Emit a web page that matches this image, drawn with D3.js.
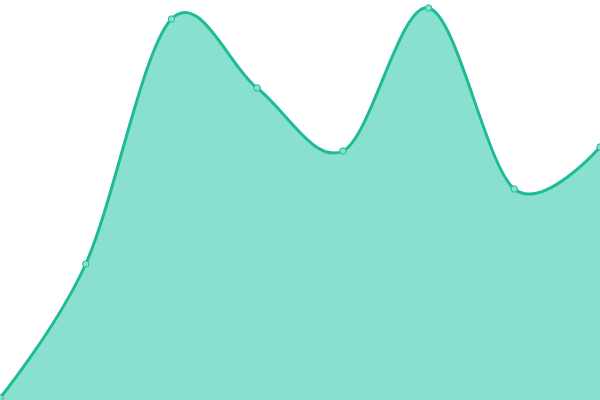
<!DOCTYPE html>
<html><head><meta charset="utf-8">
<script src="https://cdn.jsdelivr.net/npm/d3@7"></script>
<style>html,body{margin:0;padding:0;background:#fff;}svg{display:block;}</style>
</head><body>
<svg id="c" width="600" height="400"></svg>
<script>
const categories = ["A","B","C","D","E","F","G","H"];
const values = [2, 136, 381, 312, 249, 392, 211, 253];

const W = 600, H = 400;
const svg = d3.select("#c");
const x = d3.scalePoint().domain(categories).range([0, W]);
const y = d3.scaleLinear().domain([0, 400]).range([H, 0]);
const data = categories.map((c, i) => ({c, v: values[i]}));

const curve = d3.curveCardinal.tension(0);
const area = d3.area().x(d => x(d.c)).y0(H).y1(d => y(d.v)).curve(curve);
const line = d3.line().x(d => x(d.c)).y(d => y(d.v)).curve(curve);

svg.append("path").datum(data).attr("d", area).attr("fill", "#8ae0cf");
svg.append("path").datum(data).attr("d", line).attr("fill", "none")
  .attr("stroke", "#1fbb97").attr("stroke-width", 3);
svg.selectAll("circle").data(data).enter().append("circle")
  .attr("cx", d => x(d.c)).attr("cy", d => y(d.v)).attr("r", 3.2)
  .attr("fill", "#8ae0cf").attr("stroke", "#1fbb97").attr("stroke-width", 1);
</script>
</body></html>
